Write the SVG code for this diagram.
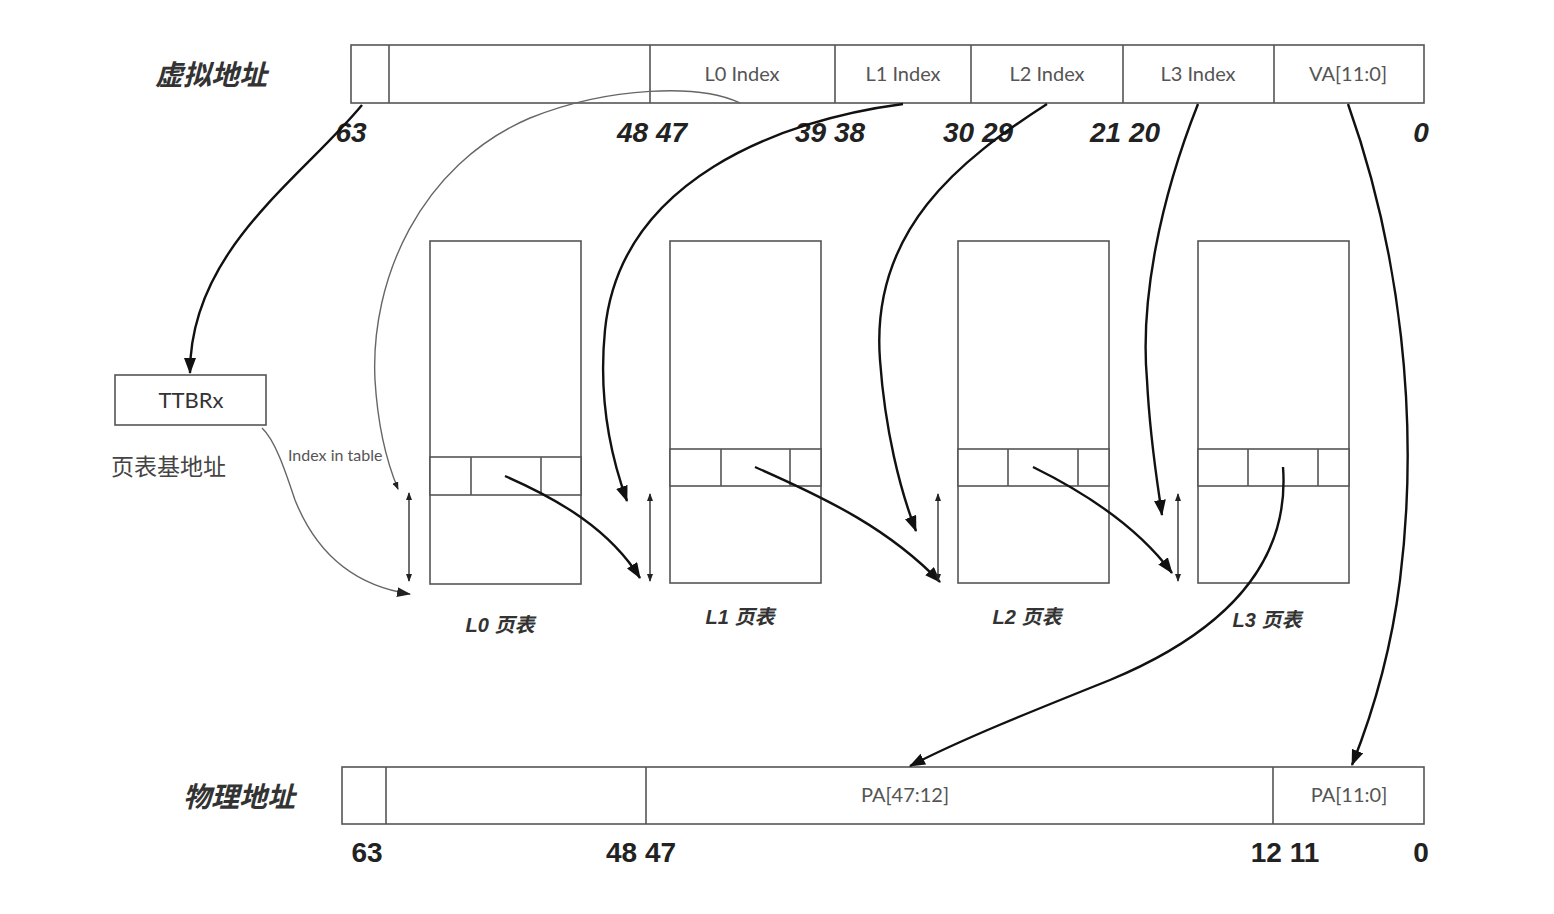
<svg xmlns="http://www.w3.org/2000/svg" width="1554" height="914" viewBox="0 0 1554 914">
<style>
.box{fill:#fff;stroke:#555;stroke-width:1.6}
.ln{fill:none;stroke:#555;stroke-width:1.6}
.idx{font-family:Lato,"Liberation Sans",sans-serif;font-size:20px;fill:#555;text-anchor:middle}
.bit{font-family:"Liberation Sans",Arial,sans-serif;font-weight:bold;font-style:italic;font-size:28px;fill:#222;text-anchor:middle}
.bitu{font-family:"Liberation Sans",Arial,sans-serif;font-weight:bold;font-size:28px;fill:#222;text-anchor:middle}
.ttl{font-family:"Liberation Sans","Noto Sans CJK SC",sans-serif;font-weight:bold;font-style:italic;font-size:28px;fill:#333}
.tbl{font-family:"Liberation Sans","Noto Sans CJK SC",sans-serif;font-weight:bold;font-style:italic;font-size:20px;fill:#333;text-anchor:middle}
.bold{fill:none;stroke:#111;stroke-width:2.4}
.thin{fill:none;stroke:#666;stroke-width:1.4}
.dbl{fill:none;stroke:#333;stroke-width:1.4}
</style>
<defs>
<marker id="ab" viewBox="0 0 16 12" refX="15" refY="6" markerWidth="16" markerHeight="12" markerUnits="userSpaceOnUse" orient="auto"><path d="M0,0 L16,6 L0,12 z" fill="#111"/></marker>
<marker id="am" viewBox="0 0 14 10" refX="13" refY="5" markerWidth="14" markerHeight="10" markerUnits="userSpaceOnUse" orient="auto"><path d="M0,0 L14,5 L0,10 z" fill="#222"/></marker>
<marker id="as" viewBox="0 0 8 6" refX="7" refY="3" markerWidth="8" markerHeight="6" markerUnits="userSpaceOnUse" orient="auto-start-reverse"><path d="M0,0 L8,3 L0,6 z" fill="#222"/></marker>
</defs>
<rect width="1554" height="914" fill="#fff"/>

<g id="va">
<text class="ttl" x="155" y="85">虚拟地址</text>
<rect class="box" x="351" y="45" width="1073" height="58"/>
<path class="ln" d="M389 45V103M650 45V103M835 45V103M971 45V103M1123 45V103M1274 45V103"/>
<text class="idx" x="742" y="81">L0 Index</text>
<text class="idx" x="903" y="81">L1 Index</text>
<text class="idx" x="1047" y="81">L2 Index</text>
<text class="idx" x="1198" y="81">L3 Index</text>
<text class="idx" x="1348" y="81">VA[11:0]</text>
<text class="bit" x="351" y="142">63</text>
<text class="bit" x="652" y="142">48 47</text>
<text class="bit" x="830" y="142">39 38</text>
<text class="bit" x="978" y="142">30 29</text>
<text class="bit" x="1125" y="142">21 20</text>
<text class="bit" x="1421" y="142">0</text>
</g>

<g id="ttbr">
<rect class="box" x="115" y="375" width="151" height="50"/>
<text class="idx" x="191" y="408" style="font-size:22px;fill:#333">TTBRx</text>
<text x="111" y="475" style="font-family:'Noto Sans CJK SC',sans-serif;font-size:23px;fill:#444">页表基地址</text>
<text x="288" y="461" style="font-family:Lato,'Liberation Sans',sans-serif;font-size:16px;fill:#555">Index in table</text>
</g>

<g id="l0">
<rect class="box" x="430" y="241" width="151" height="343"/>
<rect class="box" x="430" y="457" width="151" height="38"/>
<path class="ln" d="M471 457V495M541 457V495"/>
<text class="tbl" x="500" y="632">L0 页表</text>
</g>
<g id="l1">
<rect class="box" x="670" y="241" width="151" height="342"/>
<rect class="box" x="670" y="449" width="151" height="37"/>
<path class="ln" d="M721 449V486M790 449V486"/>
<text class="tbl" x="740" y="624">L1 页表</text>
</g>
<g id="l2">
<rect class="box" x="958" y="241" width="151" height="342"/>
<rect class="box" x="958" y="449" width="151" height="37"/>
<path class="ln" d="M1008 449V486M1078 449V486"/>
<text class="tbl" x="1027" y="624">L2 页表</text>
</g>
<g id="l3">
<rect class="box" x="1198" y="241" width="151" height="342"/>
<rect class="box" x="1198" y="449" width="151" height="37"/>
<path class="ln" d="M1248 449V486M1318 449V486"/>
<text class="tbl" x="1267" y="627">L3 页表</text>
</g>

<g id="pa">
<text class="ttl" x="183" y="807">物理地址</text>
<rect class="box" x="342" y="767" width="1082" height="57"/>
<path class="ln" d="M386 767V824M646 767V824M1273 767V824"/>
<text class="idx" x="905" y="802">PA[47:12]</text>
<text class="idx" x="1349" y="802">PA[11:0]</text>
<text class="bitu" x="367" y="862">63</text>
<text class="bitu" x="641" y="862">48 47</text>
<text class="bitu" x="1285" y="862">12 11</text>
<text class="bitu" x="1421" y="862">0</text>
</g>

<g id="connectors">
<path class="bold" marker-end="url(#ab)" d="M362 105 C300 180, 190 250, 190 373"/>
<path class="thin" marker-end="url(#am)" d="M262 428 C275 440, 285 470, 295 500 C315 550, 350 585, 410 594"/>
<path class="thin" marker-end="url(#as)" d="M740 103 C700 84, 610 86, 530 118 C420 165, 370 280, 375 380 C378 430, 388 465, 398 489"/>
<path class="bold" marker-end="url(#ab)" d="M903 104 C780 120, 620 180, 605 330 C598 400, 612 460, 627 501"/>
<path class="bold" marker-end="url(#ab)" d="M1047 104 C960 160, 870 230, 880 360 C885 430, 900 490, 916 531"/>
<path class="bold" marker-end="url(#ab)" d="M1198 104 C1160 200, 1140 300, 1147 380 C1150 440, 1157 480, 1162 515"/>
<path class="bold" marker-end="url(#ab)" d="M1348 104 C1400 250, 1420 420, 1400 580 C1390 660, 1370 720, 1352 765"/>
<path class="bold" marker-end="url(#ab)" d="M505 476 C560 500, 610 530, 640 578"/>
<path class="bold" marker-end="url(#ab)" d="M755 467 C830 500, 890 530, 940 582"/>
<path class="bold" marker-end="url(#ab)" d="M1033 467 C1090 495, 1140 530, 1172 573"/>
<path class="bold" marker-end="url(#ab)" d="M1283 467 C1290 560, 1230 630, 1110 680 C1030 712, 960 740, 910 766"/>
<path class="dbl" marker-start="url(#as)" marker-end="url(#as)" d="M409 493V581"/>
<path class="dbl" marker-start="url(#as)" marker-end="url(#as)" d="M650 494V581"/>
<path class="dbl" marker-start="url(#as)" marker-end="url(#as)" d="M938 494V581"/>
<path class="dbl" marker-start="url(#as)" marker-end="url(#as)" d="M1178 494V581"/>
</g>
</svg>
